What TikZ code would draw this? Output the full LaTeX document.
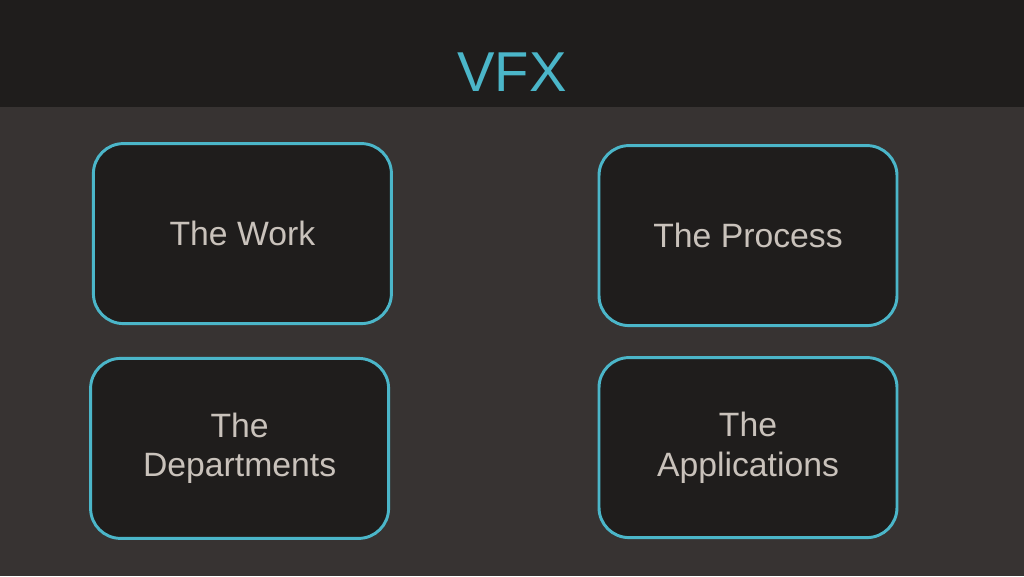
\documentclass[tikz,border=0pt]{standalone}
\usepackage{fontspec}
\setmainfont{Liberation Sans}
\usetikzlibrary{positioning}

\definecolor{panel}{HTML}{373332}
\definecolor{band}{HTML}{1F1D1C}
\definecolor{teal}{HTML}{4BB6C9}
\definecolor{chalk}{HTML}{C9C2BB}

\begin{document}
\begin{tikzpicture}[
    title/.style={font=\fontsize{40}{44}\selectfont, text=teal, anchor=base},
    tile/.style={draw=teal, line width=2.1pt, fill=band, rounded corners=0.75cm,
        minimum width=7.45cm, minimum height=4.5cm, align=center, text=chalk,
        font=\fontsize{24}{28}\selectfont}
]

% -------------------------
% Slide Background
% -------------------------
\fill[panel] (0, 0) rectangle (25.6, 14.4);
\fill[band] (0, 11.725) rectangle (25.6, 14.4);
\useasboundingbox (0, 0) rectangle (25.6, 14.4);

% -------------------------
% Title
% -------------------------
\node[title] (Title) at (12.8, 12.1) {VFX};

% -------------------------
% Tiles
% -------------------------
\node[tile] (Work) at (6.06, 8.56) {The Work};
\node[tile] (Process) at (18.7, 8.51) {The Process};
\node[tile] (Departments) at (5.99, 3.19) {The\\Departments};
\node[tile] (Applications) at (18.7, 3.21) {The\\Applications};

\end{tikzpicture}
\end{document}
